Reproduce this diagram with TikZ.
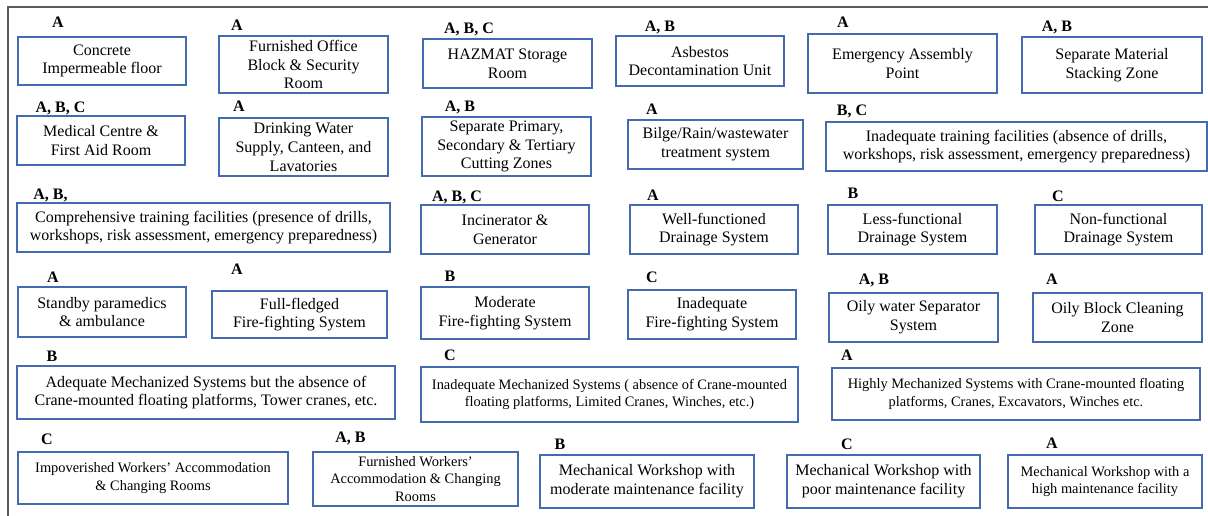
\documentclass[tikz,border=0pt]{standalone}
\usepackage{fontspec}
\setmainfont{Liberation Serif}
\usetikzlibrary{positioning}

\definecolor{boxblue}{RGB}{68,106,176}
\definecolor{framegray}{RGB}{90,90,90}

\begin{document}
\begin{tikzpicture}[x=0.75pt, y=-0.75pt,
  box/.style 2 args={draw=boxblue, line width=0.8pt, align=center, inner sep=1pt,
    minimum width=#1*0.75pt, minimum height=#2*0.75pt,
    font=\fontsize{12}{14}\selectfont},
  small/.style={font=\fontsize{10.8}{13}\selectfont},
  tag/.style={anchor=base, inner sep=0pt, font=\fontsize{12}{14}\selectfont\bfseries}
 ]
 \useasboundingbox (0,0) rectangle (1208,516);
 \draw [framegray, line width=1pt] (8,516) -- (8,7) -- (1208,7);

 % first row
 \node [box={168}{48}] (concrete) at (102,61) {Concrete\\Impermeable floor};
 \node [box={169}{57}] (office) at (303.5,64.5) {Furnished Office\\Block \& Security\\Room};
 \node [box={169}{49}] (hazmat) at (507.5,63.5) {HAZMAT Storage\\Room};
 \node [box={168}{50}] (asbestos) at (700,61) {Asbestos\\Decontamination Unit};
 \node [box={189}{59}] (assembly) at (902.5,63.5) {Emergency Assembly\\Point};
 \node [box={180}{56}] (stacking) at (1112,65) {Separate Material\\Stacking Zone};
 \node [tag] (concreteT) at (58,28) {A};
 \node [tag] (officeT) at (237,31) {A};
 \node [tag] (hazmatT) at (469,34) {A, B, C};
 \node [tag] (asbestosT) at (660,32) {A, B};
 \node [tag] (assemblyT) at (843,28) {A};
 \node [tag] (stackingT) at (1057,32) {A, B};

 % second row
 \node [box={168}{49}] (medical) at (101,140.5) {Medical Centre \&\\First Aid Room};
 \node [box={169}{58}] (water) at (303.5,147) {Drinking Water\\Supply, Canteen, and\\Lavatories};
 \node [box={169}{59}] (cutting) at (506.5,146.5) {Separate Primary,\\Secondary \& Tertiary\\Cutting Zones};
 \node [box={175}{49}] (bilge) at (715.5,144.5) {Bilge/Rain/wastewater\\treatment system};
 \node [box={381}{49}] (poortrain) at (1016.5,146.5) {Inadequate training facilities (absence of drills,\\workshops, risk assessment, emergency preparedness)};
 \node [tag] (medicalT) at (60.5,113) {A, B, C};
 \node [tag] (waterT) at (239,112) {A};
 \node [tag] (cuttingT) at (460,112) {A, B};
 \node [tag] (bilgeT) at (652,115) {A};
 \node [tag] (poortrainT) at (852,116) {B, C};

 % third row
 \node [box={373}{49}] (goodtrain) at (203.5,227.5) {Comprehensive training facilities (presence of drills,\\workshops, risk assessment, emergency preparedness)};
 \node [box={168}{49}] (incinerator) at (505,229.5) {Incinerator \&\\Generator};
 \node [box={168}{49}] (welldrain) at (714,229.5) {Well-functioned\\Drainage System};
 \node [box={169}{49}] (lessdrain) at (912.5,229.5) {Less-functional\\Drainage System};
 \node [box={167}{49}] (nodrain) at (1118.5,229.5) {Non-functional\\Drainage System};
 \node [tag] (goodtrainT) at (50.5,200) {A, B,};
 \node [tag] (incineratorT) at (457,202) {A, B, C};
 \node [tag] (welldrainT) at (653,201) {A};
 \node [tag] (lessdrainT) at (853,199) {B};
 \node [tag] (nodrainT) at (1058,202) {C};

 % fourth row
 \node [box={168}{50}] (paramedics) at (102,312) {Standby paramedics\\\& ambulance};
 \node [box={175}{47}] (fullfire) at (299.5,314.5) {Full-fledged\\Fire-fighting System};
 \node [box={168}{52}] (modfire) at (505,313) {Moderate\\Fire-fighting System};
 \node [box={168}{49}] (poorfire) at (712,314.5) {Inadequate\\Fire-fighting System};
 \node [box={169}{49}] (oilysep) at (913.5,317.5) {Oily water Separator\\System};
 \node [box={169}{49}] (oilyblock) at (1117.5,317.5) {Oily Block Cleaning\\Zone};
 \node [tag] (paramedicsT) at (53,283) {A};
 \node [tag] (fullfireT) at (237,275) {A};
 \node [tag] (modfireT) at (450,282) {B};
 \node [tag] (poorfireT) at (652,283) {C};
 \node [tag] (oilysepT) at (874,285) {A, B};
 \node [tag] (oilyblockT) at (1052,285) {A};

 % fifth row
 \node [box={378}{53}] (midmech) at (206,392.5) {Adequate Mechanized Systems but the absence of\\Crane-mounted floating platforms, Tower cranes, etc.};
 \node [box={377}{55}, small] (poormech) at (609.5,394.5) {Inadequate Mechanized Systems ( absence of Crane-mounted\\floating platforms, Limited Cranes, Winches, etc.)};
 \node [box={368}{52}, small] (highmech) at (1016,394) {Highly Mechanized Systems with Crane-mounted floating\\platforms, Cranes, Excavators, Winches etc.};
 \node [tag] (midmechT) at (52,362) {B};
 \node [tag] (poormechT) at (450,361) {C};
 \node [tag] (highmechT) at (847,361) {A};

 % sixth row
 \node [box={270}{52}, small] (poorhouse) at (153,478) {Impoverished Workers' Accommodation\\\& Changing Rooms};
 \node [box={205}{54}, small] (goodhouse) at (415.5,479) {Furnished Workers'\\Accommodation \& Changing\\Rooms};
 \node [box={214}{53}] (modshop) at (647,481.5) {Mechanical Workshop with\\moderate maintenance facility};
 \node [box={193}{53}] (poorshop) at (883.5,481.5) {Mechanical Workshop with\\poor maintenance facility};
 \node [box={194}{53}, small] (highshop) at (1105,481.5) {Mechanical Workshop with a\\high maintenance facility};
 \node [tag] (poorhouseT) at (47,445) {C};
 \node [tag] (goodhouseT) at (350.5,443) {A, B};
 \node [tag] (modshopT) at (560,450) {B};
 \node [tag] (poorshopT) at (847,450) {C};
 \node [tag] (highshopT) at (1052,449) {A};
\end{tikzpicture}
\end{document}
